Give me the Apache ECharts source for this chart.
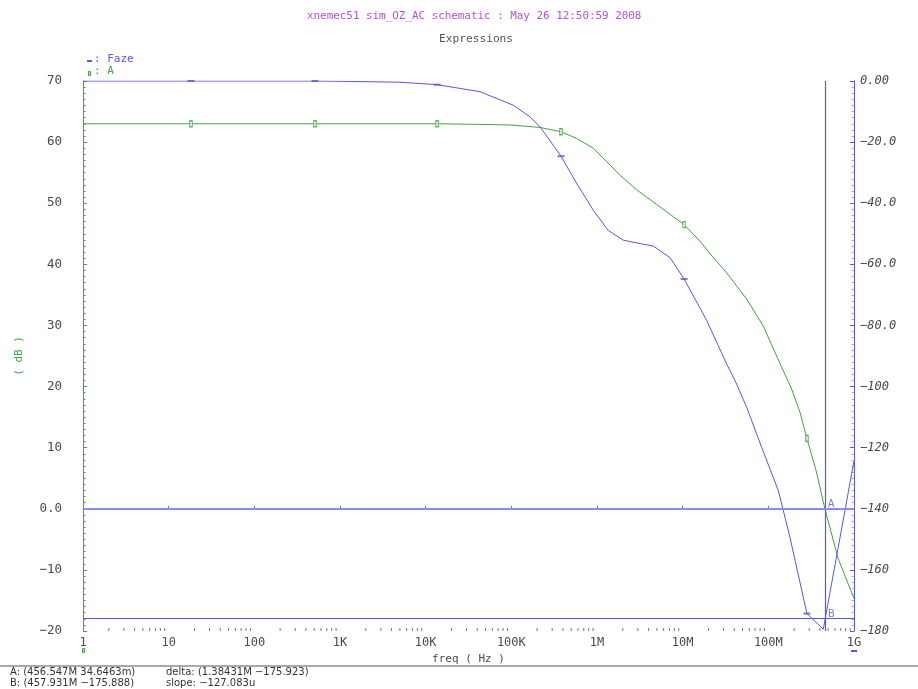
<!DOCTYPE html>
<html>
<head>
<meta charset="utf-8">
<script src="https://cdn.jsdelivr.net/npm/echarts@6/dist/echarts.min.js"></script>
<style>
  html, body { margin: 0; padding: 0; background: #ffffff; }
  #chart { width: 918px; height: 689px; }
</style>
</head>
<body>
<div id="chart"></div>
<script>
// ---- AC sweep of the amplifier: gain (dB) and phase (deg) vs frequency ----
const gainFreq = [1, 18.2, 511, 13600, 43100, 100000, 216000, 380000, 579000, 905000,
  1.30e6, 1.85e6, 2.90e6, 4.97e6, 7.77e6, 1.04e7, 1.59e7, 2.28e7, 3.26e7, 5.59e7,
  8.73e7, 1.25e8, 1.87e8, 2.34e8, 2.82e8, 3.6e8, 4.565e8, 6.55e8, 1e9];
const gainDb = [63.0, 63.0, 63.0, 63.0, 62.9, 62.8, 62.4, 61.7, 60.6, 59.0,
  56.8, 54.6, 52.2, 49.8, 47.8, 46.5, 43.8, 41.1, 38.6, 34.3,
  29.9, 25.0, 19.6, 15.8, 11.5, 6.3, 0.035, -8.2, -14.7];

const phaseFreq = [1, 18.2, 511, 1000, 5000, 13600, 43000, 105000, 165000, 216000,
  380000, 579000, 905000, 1.35e6, 2.03e6, 3.17e6, 4.54e6, 7.11e6, 1.04e7, 1.91e7,
  3.26e7, 4.08e7, 5.59e7, 8.36e7, 1.31e8, 1.79e8, 2.82e8, 4.38e8, 1e9];
const phaseDeg = [0, 0, 0, -0.1, -0.4, -1.2, -3.5, -7.9, -11.7, -15.0,
  -24.6, -33.5, -42.3, -48.9, -52.1, -53.2, -54.0, -57.8, -64.8, -78.4,
  -92.6, -98.0, -106.8, -119.9, -134.1, -149.4, -174.3, -179.4, -124.3];

// trace identification markers
const markerFreq = [18.2, 511, 13600, 380000, 1.04e7, 2.82e8];
const markerGain = [63.0, 63.0, 63.0, 61.7, 46.5, 11.5];
const markerPhase = [0, 0, -1.2, -24.6, -64.8, -174.3];

// cursors A and B
const cursorAFreq = 456.547e6, cursorAValue = 34.6463e-3;
const cursorBFreq = 457.931e6, cursorBValue = -175.888;

// axis tick labels
const freqTickLabels = ['1', '10', '100', '1K', '10K', '100K', '1M', '10M', '100M', '1G'];
const minorMultipliers = [2, 3, 4, 5, 6, 7, 8, 9];
const readoutLines = [
  'A: (456.547M 34.6463m)', 'B: (457.931M \u2212175.888)',
  'delta: (1.38431M \u2212175.923)', 'slope: \u2212127.083u'
];

const BLUE = '#5555f4';
const BLUE_LIGHT = '#8a8aff';
const GREEN = '#40a440';
const AXIS_GRAY = '#9a9a9a';
const LABEL_GRAY = '#4a4a4a';
const MONO = '"DejaVu Sans Mono", monospace';
const SANS = '"DejaVu Sans", sans-serif';

const dbMin = -20, dbMax = 70;
const degMin = -180, degMax = 0;

const minorFreqs = [];
for (let d = 0; d < 9; d++) {
  minorMultipliers.forEach(m => minorFreqs.push(m * Math.pow(10, d)));
}

const minus = s => s.replace('-', '\u2212');

const chart = echarts.init(document.getElementById('chart'), null, { renderer: 'canvas' });

const option = {
  animation: false,
  backgroundColor: '#ffffff',
  title: [
    {
      text: 'xnemec51 sim_OZ_AC schematic : May 26 12:50:59 2008',
      left: 302, top: 6,
      textStyle: { color: '#b84ee0', fontFamily: MONO, fontSize: 10.9, fontWeight: 'normal' }
    },
    {
      text: 'Expressions',
      left: 434, top: 29,
      textStyle: { color: '#555555', fontFamily: MONO, fontSize: 11.2, fontWeight: 'normal' }
    }
  ],
  grid: { left: 83, right: 64, top: 81, bottom: 58, containLabel: false, outerBoundsMode: 'none' },
  xAxis: {
    type: 'log', logBase: 10, min: 1, max: 1e9, splitNumber: 9,
    name: 'freq ( Hz )', nameLocation: 'middle', nameGap: 13,
    nameTextStyle: { color: LABEL_GRAY, fontFamily: MONO, fontSize: 11 },
    axisLine: { show: true, lineStyle: { color: AXIS_GRAY, width: 1 } },
    axisTick: { show: true, inside: true, length: 3, lineStyle: { color: '#777' } },
    axisLabel: {
      margin: 6, color: LABEL_GRAY, fontFamily: MONO, fontSize: 12,
      formatter: v => freqTickLabels[Math.round(Math.log10(v))] || ''
    },
    splitLine: { show: false }
  },
  yAxis: [
    {
      type: 'value', position: 'left', min: dbMin, max: dbMax, interval: 10,
      name: '( dB )', nameLocation: 'middle', nameGap: 58,
      nameTextStyle: { color: GREEN, fontFamily: MONO, fontSize: 11 },
      axisLine: { show: true, lineStyle: { color: GREEN, width: 1 } },
      axisTick: { show: true, inside: true, length: 4, lineStyle: { color: GREEN } },
      minorTick: { show: true, splitNumber: 10, length: 2.5, lineStyle: { color: GREEN } },
      axisLabel: {
        margin: 21, color: LABEL_GRAY, fontFamily: MONO, fontSize: 12.5,
        formatter: v => v === 0 ? '0.0' : minus(String(v))
      },
      splitLine: { show: false }
    },
    {
      type: 'value', position: 'right', min: degMin, max: degMax, interval: 20,
      name: '( deg )', nameLocation: 'middle', nameGap: 64,
      nameTextStyle: { color: BLUE, fontFamily: MONO, fontSize: 11 },
      axisLine: { show: true, lineStyle: { color: BLUE, width: 1 } },
      axisTick: { show: true, inside: true, length: 4, lineStyle: { color: BLUE } },
      minorTick: { show: true, splitNumber: 10, length: 2.5, lineStyle: { color: '#b0b0c8' } },
      axisLabel: {
        margin: 6, color: LABEL_GRAY, fontFamily: MONO, fontSize: 12, fontStyle: 'italic',
        formatter: v => {
          if (v === 0) return '0.00';
          const s = Math.abs(v) < 100 ? v.toFixed(1) : String(v);
          return minus(s);
        }
      },
      splitLine: { show: false }
    }
  ],
  series: [
    {
      // logarithmic minor ticks along the frequency axis
      type: 'custom', name: 'freqMinorTicks', coordinateSystem: 'cartesian2d',
      xAxisIndex: 0, yAxisIndex: 0, silent: true, z: 1,
      data: minorFreqs.map(f => [f, dbMin]),
      renderItem: (params, api) => {
        const p = api.coord([api.value(0), api.value(1)]);
        return {
          type: 'line',
          shape: { x1: p[0], y1: p[1], x2: p[0], y2: p[1] - 3 },
          style: { stroke: '#777777', lineWidth: 1 }
        };
      }
    },
    {
      name: 'A', type: 'line', yAxisIndex: 0,
      data: gainFreq.map((f, i) => [f, gainDb[i]]),
      showSymbol: false, smooth: false,
      lineStyle: { color: GREEN, width: 1 }, itemStyle: { color: GREEN },
      z: 3,
      markLine: {
        silent: true, symbol: 'none', animation: false,
        label: { show: false },
        data: [
          { xAxis: cursorAFreq, lineStyle: { color: BLUE, width: 1.2, type: 'solid' } },
          { yAxis: cursorAValue, lineStyle: { color: BLUE_LIGHT, width: 1.8, type: 'solid' } }
        ]
      }
    },
    {
      name: 'Faze', type: 'line', yAxisIndex: 1,
      data: phaseFreq.map((f, i) => [f, phaseDeg[i]]),
      showSymbol: false, smooth: false,
      lineStyle: { color: BLUE, width: 1 }, itemStyle: { color: BLUE },
      z: 3,
      markLine: {
        silent: true, symbol: 'none', animation: false,
        label: { show: false },
        data: [
          { yAxis: cursorBValue, lineStyle: { color: BLUE, width: 1.2, type: 'solid' } }
        ]
      }
    },
    {
      name: 'A markers', type: 'scatter', yAxisIndex: 0, silent: true, z: 4,
      data: markerFreq.map((f, i) => [f, markerGain[i]]),
      symbol: 'rect', symbolSize: [3, 6],
      itemStyle: { color: '#c8e8c8', borderColor: GREEN, borderWidth: 1 }
    },
    {
      name: 'Faze markers', type: 'scatter', yAxisIndex: 1, silent: true, z: 4,
      data: markerFreq.map((f, i) => [f, markerPhase[i]]),
      symbol: 'rect', symbolSize: [7, 2],
      itemStyle: { color: BLUE }
    },
    {
      name: 'cursor A', type: 'scatter', yAxisIndex: 0, silent: true, z: 5,
      data: [[cursorAFreq, cursorAValue]], symbolSize: 0,
      label: { show: true, formatter: 'A', position: 'right', distance: 3, offset: [0, -4],
        color: BLUE, fontFamily: MONO, fontSize: 11 }
    },
    {
      name: 'cursor B', type: 'scatter', yAxisIndex: 1, silent: true, z: 5,
      data: [[cursorBFreq, cursorBValue]], symbolSize: 0,
      label: { show: true, formatter: 'B', position: 'right', distance: 3, offset: [0, -4],
        color: BLUE, fontFamily: MONO, fontSize: 11 }
    }
  ],
  graphic: [
    // trace legend
    { type: 'rect', left: 87, top: 60, shape: { width: 5, height: 2 }, style: { fill: BLUE } },
    { type: 'text', left: 94, top: 54,
      style: { text: ': Faze', fill: BLUE, font: '11px ' + MONO } },
    { type: 'rect', left: 88, top: 71, shape: { width: 2, height: 4 },
      style: { fill: '#c8e8c8', stroke: GREEN, lineWidth: 1 } },
    { type: 'text', left: 94, top: 66,
      style: { text: ': A', fill: GREEN, font: '11px ' + MONO } },
    // trace tags under the frequency axis
    { type: 'rect', left: 82, top: 648, shape: { width: 2, height: 4 },
      style: { fill: '#c8e8c8', stroke: GREEN, lineWidth: 1 } },
    { type: 'rect', left: 851, top: 650, shape: { width: 6, height: 2 }, style: { fill: BLUE } },
    // separator above the cursor readout
    { type: 'line', shape: { x1: 0, y1: 666, x2: 918, y2: 666 },
      style: { stroke: '#8c8c8c', lineWidth: 1.5 } },
    // cursor readout
    { type: 'text', left: 10, top: 667,
      style: { text: readoutLines[0], fill: '#333333', font: '10px ' + SANS } },
    { type: 'text', left: 10, top: 678,
      style: { text: readoutLines[1], fill: '#333333', font: '10px ' + SANS } },
    { type: 'text', left: 166, top: 667,
      style: { text: readoutLines[2], fill: '#333333', font: '10px ' + SANS } },
    { type: 'text', left: 166, top: 678,
      style: { text: readoutLines[3], fill: '#333333', font: '10px ' + SANS } }
  ]
};

chart.setOption(option);
</script>
</body>
</html>
